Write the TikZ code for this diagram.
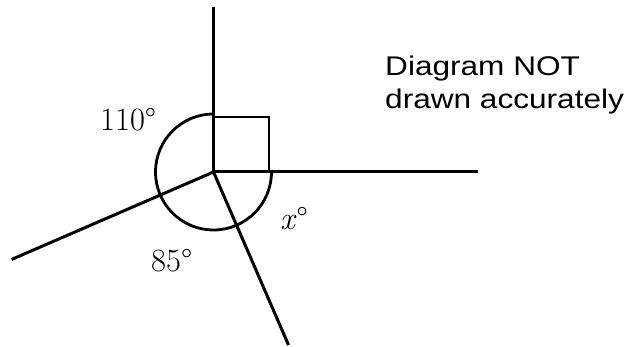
\documentclass[tikz,border=0pt]{standalone}
\usepackage{fontspec}
\newfontfamily\notefont[FakeStretch=1.17]{Liberation Sans}
\begin{document}
\begin{tikzpicture}[x=1pt,y=1pt,
  ray/.style={line width=3pt},
  anglemark/.style={line width=2.8pt},
  anglabel/.style={anchor=base west,inner sep=0pt,font=\fontsize{32.5}{38}\selectfont},
  notetext/.style={anchor=base west,inner sep=0pt,font=\notefont\fontsize{27}{33}\selectfont}]
\useasboundingbox (0,0) rectangle (626,347);
\coordinate (O) at (213.5,175);
\coordinate (up) at (213.5,340);
\coordinate (right) at (478,175);
\coordinate (ll) at (11.5,87.5);
\coordinate (dr) at (288.5,2);
\draw[ray] (O) -- (up);
\draw[ray] (O) -- (right);
\draw[ray] (O) -- (ll);
\draw[ray] (O) -- (dr);
\draw[anglemark] (O) rectangle (269,230);
\draw[anglemark] ([yshift=58pt]O) arc[start angle=90,end angle=360,radius=58];
\node[anglabel] (a110) at (100,216.5) {110°};
\node[anglabel] (a85) at (151,75.5) {85°};
\node[anglabel] (ax) at (280,117) {\textit{x}°};
\node[notetext] (note1) at (385,271) {Diagram NOT};
\node[notetext] (note2) at (385,238) {drawn accurately};
\end{tikzpicture}
\end{document}
